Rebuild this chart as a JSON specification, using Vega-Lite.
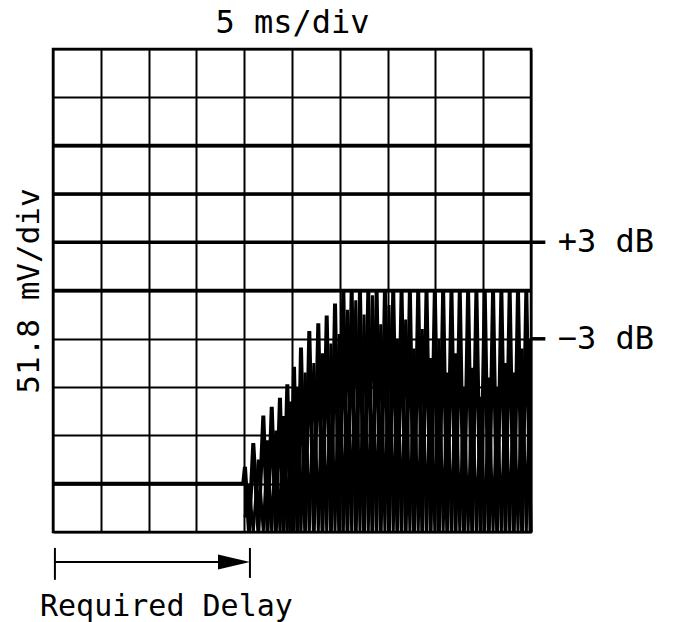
{
  "$schema": "https://vega.github.io/schema/vega-lite/v6.json",
  "width": 478,
  "height": 483,
  "autosize": "none",
  "padding": {"left": 53, "top": 49, "right": 142, "bottom": 90},
  "background": "white",
  "config": {
    "view": {"stroke": "black", "strokeWidth": 2.5},
    "font": "DejaVu Sans Mono"
  },
  "datasets": {
    "wave": [
      {"t": 0, "v": 1}, {"t": 19.9, "v": 1}, {"t": 20.08, "v": 1.35}, {"t": 20.5, "v": 0},
      {"t": 20.95, "v": 1.84}, {"t": 21.48, "v": 0}, {"t": 22.0, "v": 2.41}, {"t": 22.44, "v": 0},
      {"t": 22.88, "v": 2.59}, {"t": 23.31, "v": 0}, {"t": 23.74, "v": 2.78}, {"t": 24.12, "v": 0},
      {"t": 24.51, "v": 3.06}, {"t": 24.86, "v": 0}, {"t": 25.21, "v": 3.42}, {"t": 25.58, "v": 0},
      {"t": 25.94, "v": 3.82}, {"t": 26.38, "v": 0}, {"t": 26.81, "v": 4.16}, {"t": 27.28, "v": 0},
      {"t": 27.75, "v": 4.32}, {"t": 28.19, "v": 0}, {"t": 28.63, "v": 4.48}, {"t": 29.07, "v": 0},
      {"t": 29.5, "v": 4.73}, {"t": 29.94, "v": 0}, {"t": 30.37, "v": 5}, {"t": 30.8, "v": 0},
      {"t": 31.24, "v": 5}, {"t": 31.67, "v": 0}, {"t": 32.11, "v": 5}, {"t": 32.54, "v": 0},
      {"t": 32.98, "v": 5}, {"t": 33.41, "v": 0}, {"t": 33.85, "v": 5}, {"t": 34.28, "v": 0},
      {"t": 34.72, "v": 5}, {"t": 35.15, "v": 0}, {"t": 35.59, "v": 5}, {"t": 36.02, "v": 0},
      {"t": 36.46, "v": 5}, {"t": 36.89, "v": 0}, {"t": 37.33, "v": 5}, {"t": 37.76, "v": 0},
      {"t": 38.2, "v": 5}, {"t": 38.63, "v": 0}, {"t": 39.07, "v": 5}, {"t": 39.5, "v": 0},
      {"t": 39.94, "v": 5}, {"t": 40.37, "v": 0}, {"t": 40.81, "v": 5}, {"t": 41.24, "v": 0},
      {"t": 41.68, "v": 5}, {"t": 42.11, "v": 0}, {"t": 42.55, "v": 5}, {"t": 42.98, "v": 0},
      {"t": 43.42, "v": 5}, {"t": 43.85, "v": 0}, {"t": 44.29, "v": 5}, {"t": 44.72, "v": 0},
      {"t": 45.16, "v": 5}, {"t": 45.59, "v": 0}, {"t": 46.03, "v": 5}, {"t": 46.46, "v": 0},
      {"t": 46.9, "v": 5}, {"t": 47.33, "v": 0}, {"t": 47.77, "v": 5}, {"t": 48.2, "v": 0},
      {"t": 48.64, "v": 5}, {"t": 49.07, "v": 0}, {"t": 49.51, "v": 5}, {"t": 49.95, "v": 0}
    ],
    "wave2": [
      {"t": 20.08, "v": 0.3}, {"t": 20.5, "v": 1.0}, {"t": 20.95, "v": 0}, {"t": 21.48, "v": 1.5},
      {"t": 22.0, "v": 0}, {"t": 22.44, "v": 1.9}, {"t": 22.88, "v": 0}, {"t": 23.31, "v": 2.1},
      {"t": 23.74, "v": 0}, {"t": 24.12, "v": 2.4}, {"t": 24.51, "v": 0}, {"t": 24.86, "v": 2.7},
      {"t": 25.21, "v": 0}, {"t": 25.58, "v": 3.0}, {"t": 25.94, "v": 0}, {"t": 26.38, "v": 3.3},
      {"t": 26.81, "v": 0}, {"t": 27.28, "v": 3.5}, {"t": 27.75, "v": 0}, {"t": 28.19, "v": 3.7},
      {"t": 28.63, "v": 0}, {"t": 29.07, "v": 3.9}, {"t": 29.5, "v": 0}, {"t": 29.94, "v": 4.1},
      {"t": 30.37, "v": 0}, {"t": 30.8, "v": 4.6}, {"t": 31.24, "v": 0}, {"t": 31.67, "v": 4.8},
      {"t": 32.11, "v": 0}, {"t": 32.54, "v": 4.5}, {"t": 32.98, "v": 0}, {"t": 33.41, "v": 4.9},
      {"t": 33.85, "v": 0}, {"t": 34.28, "v": 4.3}, {"t": 34.72, "v": 0}, {"t": 35.15, "v": 4.7},
      {"t": 35.59, "v": 0}, {"t": 36.02, "v": 4.0}, {"t": 36.46, "v": 0}, {"t": 36.89, "v": 4.4},
      {"t": 37.33, "v": 0}, {"t": 37.76, "v": 3.8}, {"t": 38.2, "v": 0}, {"t": 38.63, "v": 4.2},
      {"t": 39.07, "v": 0}, {"t": 39.5, "v": 3.6}, {"t": 39.94, "v": 0}, {"t": 40.37, "v": 4.0},
      {"t": 40.81, "v": 0}, {"t": 41.24, "v": 3.3}, {"t": 41.68, "v": 0}, {"t": 42.11, "v": 3.7},
      {"t": 42.55, "v": 0}, {"t": 42.98, "v": 3.0}, {"t": 43.42, "v": 0}, {"t": 43.85, "v": 3.4},
      {"t": 44.29, "v": 0}, {"t": 44.72, "v": 2.8}, {"t": 45.16, "v": 0}, {"t": 45.59, "v": 3.2},
      {"t": 46.03, "v": 0}, {"t": 46.46, "v": 3.0}, {"t": 46.9, "v": 0}, {"t": 47.33, "v": 3.5},
      {"t": 47.77, "v": 0}, {"t": 48.2, "v": 3.3}, {"t": 48.64, "v": 0}, {"t": 49.07, "v": 3.8},
      {"t": 49.51, "v": 0}, {"t": 49.95, "v": 4.0}
    ],
    "hrules": [
      {"y": 8, "x1": 0, "x2": 50},
      {"y": 7, "x1": 0, "x2": 50},
      {"y": 6, "x1": 0, "x2": 51.5},
      {"y": 5, "x1": 0, "x2": 50},
      {"y": 4, "x1": 50, "x2": 51.5}
    ],
    "arrow": [
      {"x1": 0.2, "x2": 18, "y1": -0.62, "y2": -0.62},
      {"x1": 0.2, "x2": 0.2, "y1": -0.33, "y2": -0.99},
      {"x1": 20.6, "x2": 20.6, "y1": -0.33, "y2": -0.95}
    ],
    "head": [{"x": 18.93, "y": -0.62}],
    "dblabels": [
      {"x": 52.8, "y": 6, "text": "+3 dB"},
      {"x": 52.8, "y": 4, "text": "−3 dB"}
    ],
    "delay": [{"x": -1.36, "y": -1.55, "text": "Required Delay"}]
  },
  "layer": [
    {
      "data": {"name": "wave"},
      "mark": {"type": "line", "color": "black", "strokeWidth": 4, "clip": false},
      "encoding": {
        "x": {
          "field": "t", "type": "quantitative",
          "scale": {"domain": [0, 50], "nice": false, "zero": false},
          "axis": {
            "orient": "top", "values": [0, 5, 10, 15, 20, 25, 30, 35, 40, 45, 50],
            "grid": true, "gridColor": "black", "gridWidth": 2, "gridOpacity": 1,
            "labels": false, "ticks": false, "domain": false,
            "title": "5 ms/div", "titleFontSize": 32, "titleFont": "DejaVu Sans Mono",
            "titleFontWeight": "normal", "titleColor": "black", "titlePadding": 10
          }
        },
        "y": {
          "field": "v", "type": "quantitative",
          "scale": {"domain": [0, 10], "nice": false, "zero": false},
          "axis": {
            "values": [0, 1, 2, 3, 4, 5, 6, 7, 8, 9, 10],
            "grid": true, "gridColor": "black", "gridWidth": 2, "gridOpacity": 1,
            "labels": false, "ticks": false, "domain": false,
            "title": "51.8 mV/div", "titleFontSize": 31, "titleFont": "DejaVu Sans Mono",
            "titleFontWeight": "normal", "titleColor": "black", "titlePadding": 8
          }
        }
      }
    },
    {
      "data": {"name": "wave2"},
      "mark": {"type": "line", "color": "black", "strokeWidth": 3, "clip": false},
      "encoding": {
        "x": {"field": "t", "type": "quantitative"},
        "y": {"field": "v", "type": "quantitative"}
      }
    },
    {
      "data": {"name": "hrules"},
      "mark": {"type": "rule", "color": "black", "strokeWidth": 3.5, "clip": false},
      "encoding": {
        "y": {"field": "y", "type": "quantitative"},
        "x": {"field": "x1", "type": "quantitative"},
        "x2": {"field": "x2"}
      }
    },
    {
      "data": {"name": "arrow"},
      "mark": {"type": "rule", "color": "black", "strokeWidth": 2, "clip": false},
      "encoding": {
        "x": {"field": "x1", "type": "quantitative"},
        "x2": {"field": "x2"},
        "y": {"field": "y1", "type": "quantitative"},
        "y2": {"field": "y2"}
      }
    },
    {
      "data": {"name": "head"},
      "mark": {"type": "point", "filled": true, "color": "black", "opacity": 1, "size": 1024, "shape": "M -1 -0.47 L 1 0 L -1 0.47 Z", "clip": false},
      "encoding": {
        "x": {"field": "x", "type": "quantitative"},
        "y": {"field": "y", "type": "quantitative"}
      }
    },
    {
      "data": {"name": "dblabels"},
      "mark": {"type": "text", "align": "left", "baseline": "middle", "fontSize": 32, "font": "DejaVu Sans Mono", "color": "black", "clip": false},
      "encoding": {
        "x": {"field": "x", "type": "quantitative"},
        "y": {"field": "y", "type": "quantitative"},
        "text": {"field": "text"}
      }
    },
    {
      "data": {"name": "delay"},
      "mark": {"type": "text", "align": "left", "baseline": "middle", "fontSize": 30, "font": "DejaVu Sans Mono", "color": "black", "clip": false},
      "encoding": {
        "x": {"field": "x", "type": "quantitative"},
        "y": {"field": "y", "type": "quantitative"},
        "text": {"field": "text"}
      }
    }
  ]
}
